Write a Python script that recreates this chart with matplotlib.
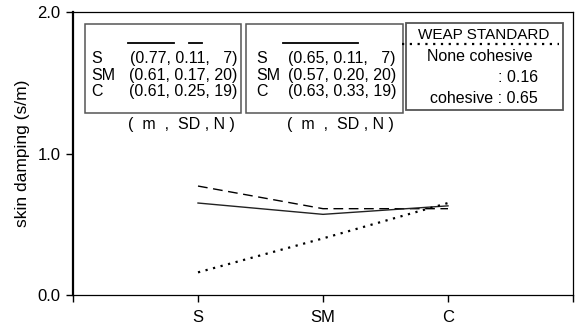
import matplotlib.pyplot as plt
from matplotlib.patches import Rectangle
from matplotlib.lines import Line2D

plt.rcParams['font.family'] = ['Liberation Sans', 'DejaVu Sans']

# categories and mean skin damping
categories = ["S", "SM", "C"]
x_pos = [1, 2, 3]
dashed_vals = [0.77, 0.61, 0.61]
solid_vals = [0.65, 0.57, 0.63]
weap_vals = [0.16, 0.40, 0.65]

# statistics shown in the boxes (m, SD, N)
dashed_stats = [("S", "(0.77, 0.11,   7)"), ("SM", "(0.61, 0.17, 20)"), ("C", "(0.61, 0.25, 19)")]
solid_stats = [("S", "(0.65, 0.11,   7)"), ("SM", "(0.57, 0.20, 20)"), ("C", "(0.63, 0.33, 19)")]

fig = plt.figure(figsize=(5.76, 3.29), dpi=100)
ax = fig.add_axes([73 / 576, 34 / 329, 500 / 576, 283 / 329])

ax.plot(x_pos, dashed_vals, color='black', lw=1.0, dashes=(7, 4))
ax.plot(x_pos, solid_vals, color='#222222', lw=1.0)
ax.plot(x_pos, weap_vals, color='black', lw=1.6, dashes=(1, 2.5))

ax.set_xlim(0, 4)
ax.set_ylim(0, 2)
ax.set_xticks([0, 1, 2, 3, 4])
ax.set_xticklabels([""] + categories + [""], fontsize=12)
ax.set_yticks([0, 1, 2])
ax.set_yticklabels(["0.0", "1.0", "2.0"], fontsize=12)
ax.tick_params(direction='out', length=5, width=1)
ax.tick_params(axis='x', pad=6)
ax.tick_params(axis='y', pad=4)
ax.set_ylabel("skin damping (s/m)", fontsize=12.5, labelpad=5)
ax.spines['left'].set_linewidth(1.6)
for s in ['top', 'right', 'bottom']:
    ax.spines[s].set_linewidth(0.9)

T = ax.transAxes
fs = 11.5
rows_y = [0.837, 0.777, 0.719]


def stats_box(x0, x1, stats, right_x, label_x, sample_segments, note_x):
    ax.add_patch(Rectangle((x0, 0.643), x1 - x0, 0.315, transform=T,
                           fill=False, ec='#555555', lw=1.1))
    for xa, xb in sample_segments:
        ax.add_line(Line2D([xa, xb], [0.890, 0.890], transform=T, color='black', lw=1.3))
    for (lab, tup), y in zip(stats, rows_y):
        ax.text(label_x, y, lab, transform=T, ha='left', va='center', fontsize=fs)
        ax.text(right_x, y, tup, transform=T, ha='right', va='center', fontsize=fs)
    ax.text(note_x, 0.601, "(  m  ,  SD , N )", transform=T, ha='right', va='center', fontsize=fs)


stats_box(0.024, 0.336, dashed_stats, 0.328, 0.036, [(0.11, 0.202), (0.232, 0.258)], 0.324)
stats_box(0.345, 0.660, solid_stats, 0.646, 0.366, [(0.42, 0.57)], 0.642)

# WEAP standard box
ax.add_patch(Rectangle((0.666, 0.654), 0.314, 0.307, transform=T,
                       fill=False, ec='#555555', lw=1.3))
ax.add_line(Line2D([0.658, 0.972], [0.887, 0.887], transform=T, color='black', lw=1.6, dashes=(1, 2.5)))
ax.text(0.821, 0.919, "WEAP STANDARD", transform=T, ha='center', va='center', fontsize=11)
ax.text(0.813, 0.841, "None cohesive", transform=T, ha='center', va='center', fontsize=fs)
ax.text(0.930, 0.767, ": " + "%.2f" % weap_vals[0], transform=T, ha='right', va='center', fontsize=fs)
ax.text(0.930, 0.693, "cohesive : " + "%.2f" % weap_vals[-1], transform=T, ha='right', va='center', fontsize=fs)

fig.savefig("out.png", dpi=100)
